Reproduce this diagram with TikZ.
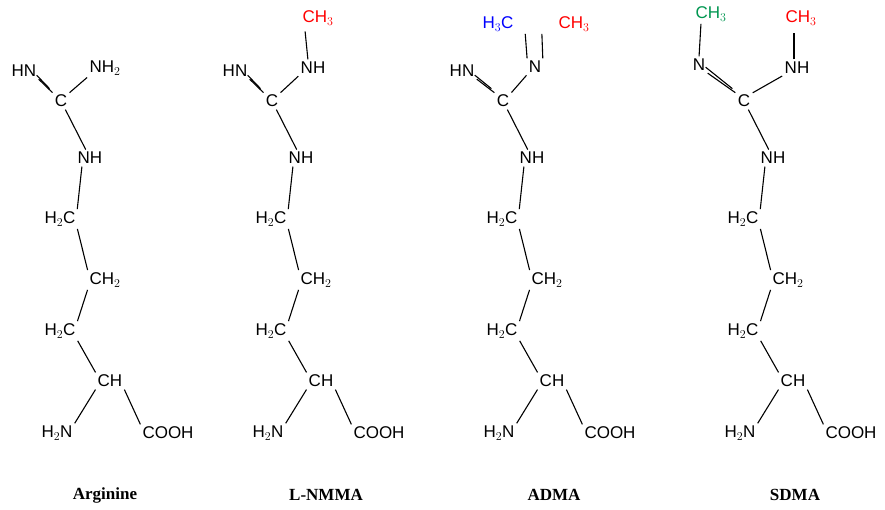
\documentclass[tikz,border=0pt]{standalone}
\usepackage{fontspec}
\setmainfont{Liberation Serif}
\newfontfamily\chemfont{Liberation Sans}
\begin{document}
\begin{tikzpicture}[x=1pt,y=-1pt,
  atm/.style={font=\chemfont\fontsize{17}{17}\selectfont,inner sep=1.5pt},
  bd/.style={line width=1.1pt,shorten >=1pt,shorten <=1pt},
  lbl/.style={font=\bfseries\fontsize{17}{17}\selectfont}]
\useasboundingbox (0,0) rectangle (885,510);
\newcommand\mychain[1]{%
  \node[atm] (#1C) at (61,101) {C};
  \node[atm] (#1NH) at (90,158) {NH};
  \node[atm] (#1A) at (60,219) {H$_2$C};
  \node[atm] (#1B) at (105,280) {CH$_2$};
  \node[atm] (#1D) at (60,331) {H$_2$C};
  \node[atm] (#1E) at (110,381) {CH};
  \node[atm] (#1F) at (57,433) {H$_2$N};
  \node[atm] (#1G) at (168,433) {COOH};
  \draw[bd] (#1C) -- (#1NH);
  \draw[bd] (#1NH.south west) ++(6,0) coordinate (#1p) (#1p) -- (#1A.north east);
  \draw[bd] (#1A.south east) -- (#1B.north west);
  \draw[bd] (#1B.south west) -- (#1D.north east);
  \draw[bd] (#1D.south east) -- (#1E.north west);
  \draw[bd] (#1E.south west) -- (#1F.north east);
  \draw[bd] (#1E.south east) -- (#1G.north west);
}
% Arginine
\begin{scope}
\mychain{a}
\node[atm] (aHN) at (24,71) {HN};
\node[atm] (aN2) at (105,68) {NH$_2$};
\draw[bd] (aHN.south east) -- (aC.north west);
\draw[bd] ([xshift=-2pt,yshift=4pt]aHN.south east) -- ([xshift=-3pt,yshift=4pt]aC.north west);
\draw[bd] (aN2.south west) -- (aC.north east);
\node[lbl] (an) at (105,495) {Arginine};
\end{scope}
% L-NMMA
\begin{scope}[shift={(211,0)}]
\mychain{b}
\node[atm] (bHN) at (24,71) {HN};
\node[atm] (bN2) at (102,68) {NH};
\node[atm,text=red] (bM) at (107,18) {CH$_3$};
\draw[bd] (bHN.south east) -- (bC.north west);
\draw[bd] ([xshift=-2pt,yshift=4pt]bHN.south east) -- ([xshift=-3pt,yshift=4pt]bC.north west);
\draw[bd] (bN2.south west) -- (bC.north east);
\draw[bd] (bN2.north) ++(-5,0) coordinate (bq) (bq) -- ++(-3,-30);
\node[lbl] (bn) at (115,495) {L-NMMA};
\end{scope}
% ADMA
\begin{scope}[shift={(442,0)}]
\mychain{c}
\node[atm] (cHN) at (20,71) {HN};
\node[atm] (cN) at (93,67) {N};
\node[atm,text=blue] (cM1) at (56,24) {H$_3$C};
\node[atm,text=red] (cM2) at (132,24) {CH$_3$};
\draw[bd] (cHN.south east) -- (cC.north west);
\draw[bd] ([xshift=-2pt,yshift=4pt]cHN.south east) -- ([xshift=-3pt,yshift=4pt]cC.north west);
\draw[bd] (cN.south west) -- (cC.north east);
\draw[bd] (cN.north west) -- ([xshift=10pt]cM1.south east);
\draw[bd] (cN.north east) -- ([xshift=-15pt]cM2.south west);
\node[lbl] (cn) at (112,495) {ADMA};
\end{scope}
% SDMA
\begin{scope}[shift={(683,0)}]
\mychain{d}
\node[atm] (dN) at (16,65) {N};
\node[atm] (dN2) at (114,68) {NH};
\node[atm,text={rgb,255:red,0;green,150;blue,80}] (dM1) at (28,14) {CH$_3$};
\node[atm,text=red] (dM2) at (118,18) {CH$_3$};
\draw[bd] (dN.south east) -- (dC.north west);
\draw[bd] ([xshift=-2pt,yshift=6pt]dN.south east) -- ([xshift=-3pt,yshift=4pt]dC.north west);
\draw[bd] (dN2.south west) -- (dC.north east);
\draw[bd] (dN.north) -- ([xshift=-10pt]dM1.south);
\draw[bd] (dN2.north) ++(-3,0) coordinate (dq) (dq) -- ++(0,-28);
\node[lbl] (dn) at (112,495) {SDMA};
\end{scope}
\end{tikzpicture}
\end{document}
